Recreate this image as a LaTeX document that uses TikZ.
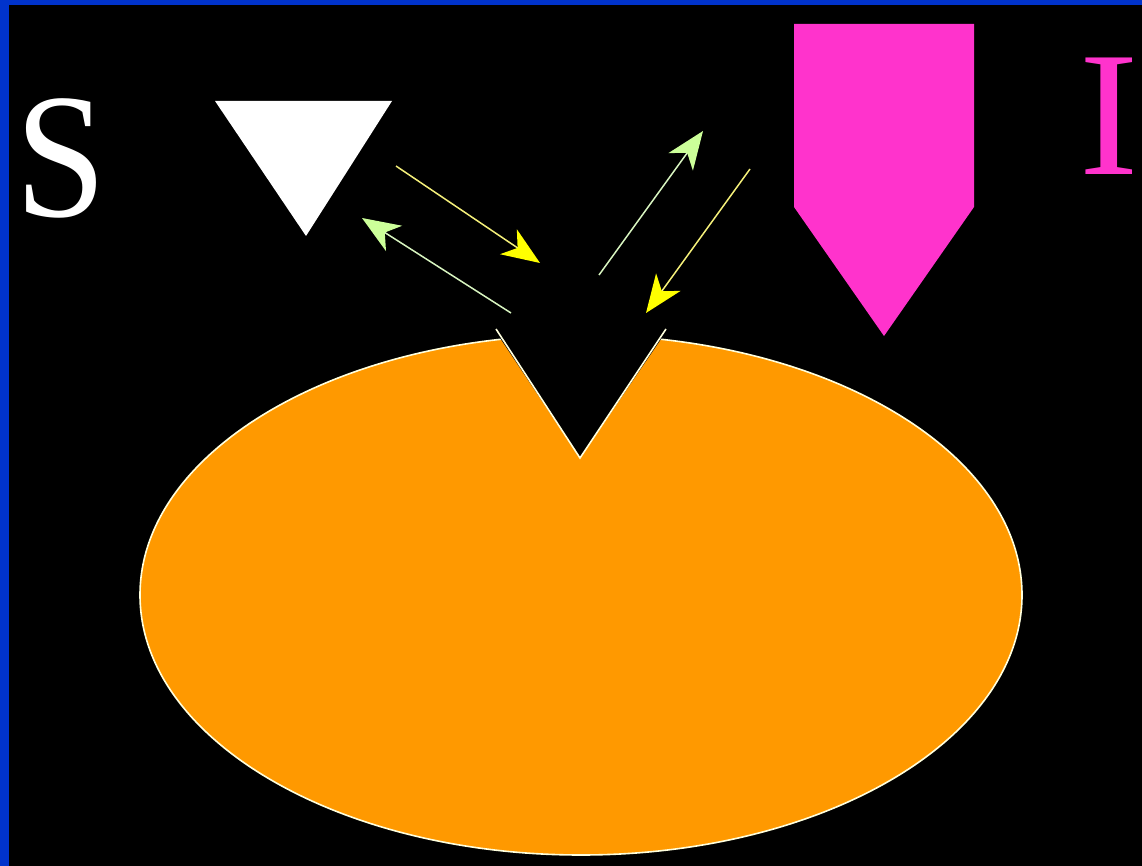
\documentclass[tikz,border=0pt]{standalone}
\usepackage{fontspec}
\setmainfont{Liberation Serif}
\usetikzlibrary{arrows.meta}
\definecolor{bordblue}{HTML}{0033CC}
\definecolor{bodyorange}{HTML}{FF9900}
\definecolor{probepink}{HTML}{FF33CC}
\definecolor{paleyellow}{HTML}{F5F07A}
\definecolor{headyellow}{HTML}{FFFF00}
\definecolor{palegreen}{HTML}{D8F5C0}
\definecolor{headgreen}{HTML}{CCFF99}
\definecolor{rimwhite}{HTML}{FFFFDD}
\tikzset{
  yarrow/.style={draw=paleyellow, line width=1.5pt, -{Stealth[length=38pt,width=30pt,inset=11pt,color=headyellow,fill=headyellow]}},
  garrow/.style={draw=palegreen, line width=1.5pt, -{Stealth[length=38pt,width=30pt,inset=11pt,color=headgreen,fill=headgreen]}},
  bigletter/.style={inner sep=0pt, font=\fontsize{178}{178}\selectfont}
}
\begin{document}
\begin{tikzpicture}[x=1pt,y=-1pt]
\useasboundingbox (0,0) rectangle (1142,866);
\fill[black] (0,0) rectangle (1142,866);
\fill[bordblue] (0,0) rectangle (9,866);
\fill[bordblue] (0,0) rectangle (1142,5);
% letters
\node[bigletter, text=white, xscale=0.92] (S) at (61,158) {S};
\node[bigletter, text=probepink] (I) at (1109,116) {I};
% triangle
\fill[white] (215,101) -- (392,101) -- (306,236) -- cycle;
% probe
\fill[probepink] (794,24) -- (974,24) -- (974,207) -- (884,336) -- (794,207) -- cycle;
% body ellipse with notch
\fill[bodyorange] (581,595) ellipse [x radius=441, y radius=260];
\draw[rimwhite, line width=1.6pt] (581,595) ellipse [x radius=441, y radius=260];
\fill[black] (488,320) -- (580,458) -- (674,320) -- cycle;
\draw[rimwhite, line width=1.6pt, line join=miter] (496,329) -- (580,458) -- (666,329);
% arrows
\coordinate (y1s) at (396,166); \coordinate (y1e) at (540,263);
\coordinate (g1s) at (511,313); \coordinate (g1e) at (362,218);
\coordinate (g2s) at (599,275); \coordinate (g2e) at (703,131);
\coordinate (y2s) at (750,169); \coordinate (y2e) at (646,313);
\draw[yarrow] (y1s) -- (y1e);
\draw[garrow] (g1s) -- (g1e);
\draw[garrow] (g2s) -- (g2e);
\draw[yarrow] (y2s) -- (y2e);
\end{tikzpicture}
\end{document}
